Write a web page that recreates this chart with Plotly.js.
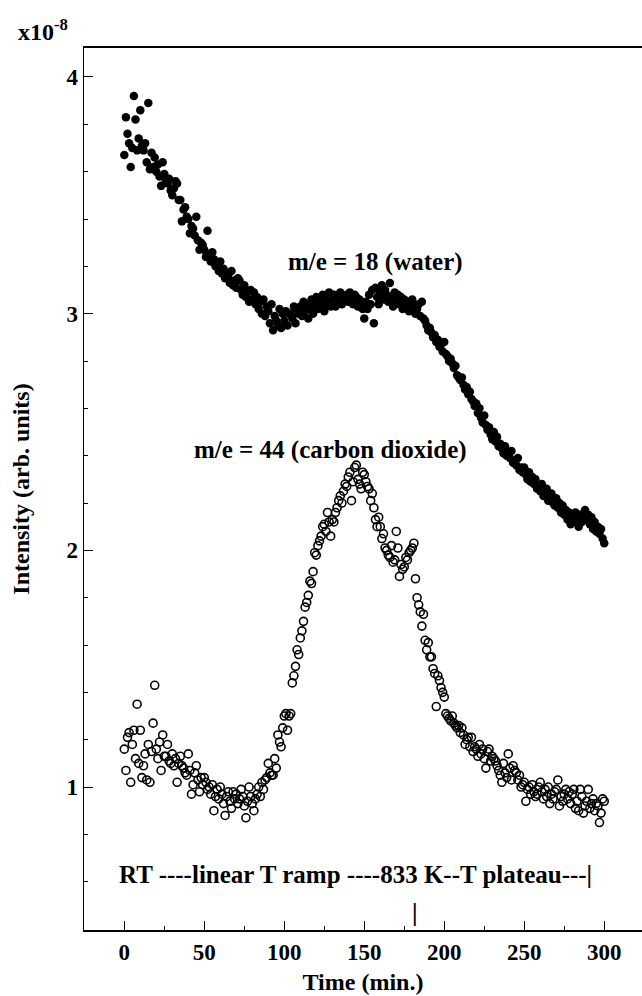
<!DOCTYPE html>
<html>
<head>
<meta charset="utf-8">
<script src="https://cdn.plot.ly/plotly-3.0.1.min.js"></script>
<style>html,body{margin:0;padding:0;background:#fff;}#chart{width:642px;height:996px;}</style>
</head>
<body>
<div id="chart"></div>
<script>
// Sampling interval (minutes) of both mass signals
const SAMPLE_STEP_MIN = 1;

// m/e = 18 (water), intensity in units of 1e-8, one sample per minute from t = 0
const waterIntensity = [
  3.67, 3.83, 3.76, 3.72, 3.62, 3.70, 3.92, 3.82, 3.69, 3.74,
  3.86, 3.71, 3.69, 3.72, 3.64, 3.89, 3.61, 3.68, 3.62, 3.66,
  3.60, 3.63, 3.58, 3.54, 3.64, 3.59, 3.56, 3.55, 3.57, 3.52,
  3.50, 3.53, 3.56, 3.55, 3.48, 3.48, 3.39, 3.44, 3.45, 3.41,
  3.40, 3.34, 3.37, 3.36, 3.33, 3.41, 3.31, 3.27, 3.30, 3.29,
  3.27, 3.24, 3.35, 3.25, 3.22, 3.26, 3.23, 3.20, 3.21, 3.18,
  3.22, 3.17, 3.19, 3.15, 3.17, 3.16, 3.13, 3.18, 3.12, 3.14,
  3.11, 3.15, 3.14, 3.10, 3.08, 3.12, 3.07, 3.09, 3.05, 3.10,
  3.06, 3.09, 3.04, 3.07, 3.02, 3.05, 3.00, 3.06, 2.99, 3.03,
  3.01, 2.96, 3.04, 2.93, 2.99, 2.97, 2.95, 3.02, 2.94, 3.00,
  2.97, 3.01, 2.95, 3.00, 3.00, 2.98, 3.03, 2.96, 3.02, 3.00,
  3.03, 2.99, 3.05, 3.01, 3.04, 2.98, 3.02, 3.06, 3.00, 3.04,
  3.07, 3.02, 3.05, 3.03, 3.08, 3.01, 3.06, 3.04, 3.09, 3.03,
  3.06, 3.08, 3.03, 3.07, 3.05, 3.09, 3.04, 3.07, 3.06, 3.08,
  3.05, 3.09, 3.06, 3.04, 3.08, 3.07, 3.03, 3.06, 3.05, 3.02,
  2.98, 3.05, 3.02, 3.08, 3.04, 3.10, 2.96, 3.11, 3.07, 3.04,
  3.09, 3.12, 3.06, 3.10, 3.08, 3.05, 3.13, 3.07, 3.03, 3.09,
  3.05, 3.08, 3.04, 3.07, 3.02, 3.06, 3.03, 3.05, 3.01, 3.04,
  3.06, 3.03, 3.00, 3.02, 3.04, 2.99, 3.05, 2.98, 2.97, 2.95,
  2.93, 2.94, 2.92, 2.90, 2.91, 2.88, 2.89, 2.86, 2.87, 2.84,
  2.88, 2.83, 2.82, 2.80, 2.81, 2.79, 2.77, 2.78, 2.74, 2.73,
  2.72, 2.73, 2.70, 2.68, 2.69, 2.66, 2.67, 2.64, 2.63, 2.61,
  2.62, 2.58, 2.60, 2.56, 2.54, 2.57, 2.53, 2.51, 2.52, 2.49,
  2.47, 2.50, 2.46, 2.48, 2.44, 2.45, 2.43, 2.41, 2.44, 2.40,
  2.41, 2.39, 2.42, 2.37, 2.38, 2.36, 2.39, 2.34, 2.35, 2.33,
  2.35, 2.32, 2.30, 2.33, 2.29, 2.31, 2.28, 2.30, 2.26, 2.27,
  2.25, 2.28, 2.23, 2.24, 2.26, 2.21, 2.22, 2.24, 2.20, 2.19,
  2.22, 2.18, 2.20, 2.16, 2.19, 2.15, 2.17, 2.13, 2.16, 2.11,
  2.14, 2.12, 2.16, 2.13, 2.10, 2.15, 2.12, 2.14, 2.17, 2.13,
  2.15, 2.11, 2.14, 2.09, 2.12, 2.08, 2.10, 2.07, 2.09, 2.05,
  2.03
];

// m/e = 44 (carbon dioxide), intensity in units of 1e-8, one sample per minute from t = 0
const co2Intensity = [
  1.16, 1.07, 1.21, 1.23, 1.02, 1.18, 1.24, 1.12, 1.35, 1.10,
  1.24, 1.04, 1.09, 1.14, 1.03, 1.18, 1.02, 1.15, 1.27, 1.43,
  1.16, 1.12, 1.19, 1.07, 1.22, 1.13, 1.13, 1.18, 1.11, 1.10,
  1.14, 1.09, 1.12, 1.02, 1.10, 1.13, 1.09, 1.08, 1.06, 1.05,
  1.14, 1.07, 0.97, 1.01, 1.06, 1.09, 1.03, 0.98, 1.04, 1.01,
  1.04, 1.02, 0.99, 1.00, 0.97, 1.01, 0.90, 0.96, 0.99, 0.95,
  1.00, 0.97, 0.93, 0.88, 0.96, 0.98, 0.94, 0.91, 0.98, 0.95,
  0.97, 0.93, 0.95, 0.99, 0.96, 0.92, 0.87, 0.94, 1.00, 0.96,
  0.93, 0.90, 0.95, 0.97, 1.00, 0.96, 1.02, 0.99, 1.03, 1.04,
  1.10, 1.06, 1.05, 1.05, 1.12, 1.08, 1.22, 1.19, 1.17, 1.25,
  1.30, 1.31, 1.24, 1.30, 1.31, 1.44, 1.47, 1.51, 1.58, 1.56,
  1.63, 1.66, 1.70, 1.76, 1.78, 1.81, 1.87, 1.86, 1.91, 1.99,
  1.98, 2.02, 2.04, 2.06, 2.10, 2.11, 2.08, 2.16, 2.12, 2.06,
  2.13, 2.12, 2.16, 2.18, 2.21, 2.23, 2.20, 2.25, 2.28, 2.27,
  2.31, 2.33, 2.21, 2.29, 2.35, 2.36, 2.30, 2.28, 2.26, 2.33,
  2.32, 2.29, 2.27, 2.26, 2.21, 2.24, 2.18, 2.13, 2.10, 2.14,
  2.10, 2.05, 2.07, 2.01, 2.00, 1.98, 1.97, 2.02, 1.95, 1.96,
  2.08, 2.01, 1.89, 1.94, 1.92, 1.93, 1.97, 1.96, 1.99, 2.00,
  2.01, 2.03, 1.88, 1.80, 1.77, 1.74, 1.68, 1.73, 1.62, 1.58,
  1.61, 1.55, 1.55, 1.50, 1.48, 1.34, 1.47, 1.45, 1.42, 1.40,
  1.38, 1.31, 1.30, 1.29, 1.28, 1.30, 1.27, 1.26, 1.25, 1.26,
  1.23, 1.25, 1.22, 1.18, 1.20, 1.21, 1.17, 1.21, 1.15, 1.17,
  1.16, 1.13, 1.18, 1.14, 1.16, 1.12, 1.08, 1.15, 1.16, 1.11,
  1.13, 1.12, 1.11, 1.09, 1.07, 1.05, 1.02, 1.10, 1.06, 1.04,
  1.14, 1.08, 1.03, 1.09, 1.07, 1.06, 1.03, 1.05, 1.00, 1.01,
  1.02, 0.94, 0.99, 1.00, 0.97, 1.01, 0.98, 0.96, 0.97, 1.00,
  1.02, 0.98, 0.95, 0.99, 0.96, 1.00, 0.93, 0.97, 0.95, 0.98,
  0.99, 1.03, 0.92, 0.96, 0.94, 0.97, 0.99, 0.95, 0.98, 0.93,
  0.97, 0.99, 0.91, 0.94, 0.90, 0.99, 0.96, 0.89, 0.92, 0.94,
  0.99, 0.91, 0.93, 0.95, 0.90, 0.93, 0.92, 0.85, 0.89, 0.95,
  0.94
];

// Texts
const xTickVals = [0, 50, 100, 150, 200, 250, 300];
const yTickVals = [1, 2, 3, 4];
const xTitle = 'Time (min.)';
const yTitle = 'Intensity (arb. units)';
const scaleLabel = 'x10<sup>-8</sup>';
const waterLabel = 'm/e = 18 (water)';
const co2Label = 'm/e = 44 (carbon dioxide)';
const rampLabel = 'RT ----linear T ramp ----833 K--T plateau---|';
const rampMarker = '|';

const waterTime = waterIntensity.map((_, i) => i * SAMPLE_STEP_MIN);
const co2Time = co2Intensity.map((_, i) => i * SAMPLE_STEP_MIN);

const FONT = 'Liberation Serif, Times New Roman, serif';
const bold = (size) => ({family: FONT, size: size, color: '#000', weight: 'bold'});

const traces = [
  {
    x: waterTime, y: waterIntensity, type: 'scatter', mode: 'markers',
    marker: {symbol: 'circle', size: 8.5, color: '#000'},
    hoverinfo: 'skip', showlegend: false
  },
  {
    x: co2Time, y: co2Intensity, type: 'scatter', mode: 'markers',
    marker: {symbol: 'circle-open', size: 8, color: '#000', line: {width: 1.6, color: '#000'}},
    hoverinfo: 'skip', showlegend: false
  }
];

const layout = {
  width: 642, height: 996,
  margin: {l: 84, r: 0, t: 48, b: 66, pad: 0},
  paper_bgcolor: '#fff', plot_bgcolor: '#fff',
  showlegend: false,
  xaxis: {
    range: [-25.2, 323.6], autorange: false,
    showgrid: false, zeroline: false,
    showline: true, linecolor: '#000', linewidth: 2, mirror: true,
    ticks: 'inside', ticklen: 9, tickwidth: 1, tickcolor: '#000',
    tickmode: 'array', tickvals: xTickVals,
    minor: {tickmode: 'linear', tick0: 0, dtick: 25, ticks: 'inside', ticklen: 4, tickcolor: '#000', showgrid: false},
    tickfont: bold(23),
    title: {text: xTitle, font: bold(24), standoff: 10},
    automargin: false
  },
  yaxis: {
    range: [0.396, 4.1225], autorange: false,
    showgrid: false, zeroline: false,
    showline: true, linecolor: '#000', linewidth: 1.5, mirror: false,
    ticks: 'inside', ticklen: 9, tickwidth: 1, tickcolor: '#000',
    tickmode: 'array', tickvals: yTickVals,
    minor: {tickmode: 'linear', tick0: 0, dtick: 0.2, ticks: 'inside', ticklen: 4, tickcolor: '#000', showgrid: false},
    tickfont: bold(23),
    title: {text: yTitle, font: bold(24), standoff: 30},
    automargin: false
  },
  annotations: [
    {text: scaleLabel, xref: 'paper', yref: 'paper', x: -0.122, y: 1.02, xanchor: 'left', yanchor: 'middle', showarrow: false, font: bold(24)},
    {text: waterLabel, xref: 'x', yref: 'y', x: 157, y: 3.22, xanchor: 'center', yanchor: 'middle', showarrow: false, font: bold(25)},
    {text: co2Label, xref: 'x', yref: 'y', x: 129, y: 2.424, xanchor: 'center', yanchor: 'middle', showarrow: false, font: bold(25)},
    {text: rampLabel, xref: 'x', yref: 'y', x: -4.8, y: 0.629, xanchor: 'left', yanchor: 'middle', showarrow: false, font: bold(25)},
    {text: rampMarker, xref: 'x', yref: 'y', x: 182, y: 0.472, xanchor: 'center', yanchor: 'middle', showarrow: false, font: bold(25)}
  ]
};

Plotly.newPlot('chart', traces, layout, {staticPlot: true, displayModeBar: false});
</script>
</body>
</html>
